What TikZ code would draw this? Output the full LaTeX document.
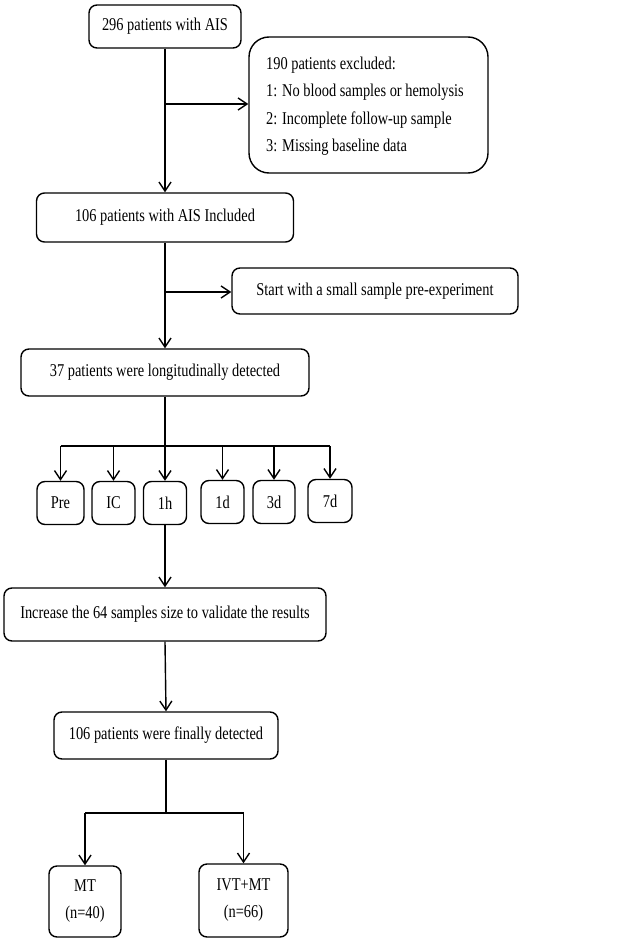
\documentclass[tikz,border=0pt]{standalone}
\usepackage{fontspec}
\setmainfont[FakeStretch=0.8]{Liberation Serif}
\usetikzlibrary{arrows.meta}
\begin{document}
\begin{tikzpicture}[x=1pt,y=1pt,
  box/.style={draw, line width=1.4pt, rounded corners=8pt, inner sep=0pt, align=center,
    font=\fontsize{18}{20}\selectfont},
  conn/.style={line width=1.4pt},
  arr/.style={line width=1.4pt, -{Straight Barb[length=9pt,width=12pt,line width=1.4pt]}}]
\useasboundingbox (0,0) rectangle (624,-942);
\node[box, minimum width=152pt, minimum height=43pt] (a) at (165,-26.5) {296 patients with AIS};
\node[box, rounded corners=20pt, minimum width=239pt, minimum height=136pt] (ex) at (368.5,-105) {};
\node[anchor=west, inner sep=0pt, align=left, font=\fontsize{18}{27.5}\selectfont] (ext) at (266,-106)
  {190 patients excluded:\\1: No blood samples or hemolysis\\2: Incomplete follow-up sample\\3: Missing baseline data};
\node[box, minimum width=257pt, minimum height=49pt] (inc) at (165,-217.5) {106 patients with AIS Included};
\node[box, minimum width=286pt, minimum height=46pt] (st) at (375,-291) {Start with a small sample pre-experiment};
\node[box, minimum width=288pt, minimum height=47pt] (lon) at (165,-372.5) {37 patients were longitudinally detected};
\node[box, minimum width=47pt, minimum height=43pt] (pre) at (60.5,-503) {Pre};
\node[box, minimum width=43pt, minimum height=43pt] (ic) at (113.5,-503) {IC};
\node[box, minimum width=43pt, minimum height=43pt] (h1) at (165,-503) {1h};
\node[box, minimum width=43pt, minimum height=43pt] (d1) at (222.5,-502) {1d};
\node[box, minimum width=42pt, minimum height=43pt] (d3) at (274,-502) {3d};
\node[box, minimum width=44pt, minimum height=43pt] (d7) at (330,-501) {7d};
\node[box, minimum width=322pt, minimum height=53pt] (incr) at (165,-614.5) {Increase the 64 samples size to validate the results};
\node[box, minimum width=224pt, minimum height=47pt] (fin) at (166,-735.5) {106 patients were finally detected};
\node[box, minimum width=72pt, minimum height=71pt, font=\fontsize{18}{27}\selectfont] (mt) at (85,-901.5) {MT\\(n=40)};
\node[box, minimum width=89pt, minimum height=73pt, font=\fontsize{18}{27}\selectfont] (ivt) at (243.5,-900.5) {IVT+MT\\(n=66)};
\coordinate (b1) at (165,-104);
\coordinate (b2) at (165,-292);
\coordinate (b3) at (165,-446);
\coordinate (b4) at (166,-813);
% connectors
\draw[arr] (a.south) -- (inc.north);
\draw[arr] (b1) -- (b1 -| ex.west);
\draw[arr] (inc.south) -- (lon.north);
\draw[arr] (b2) -- (b2 -| st.west);
\draw[conn] (lon.south) -- (b3);
\draw[conn] (pre.north |- b3) -- (d7.north |- b3);
\foreach \n in {pre,ic,h1,d1,d3,d7}{\draw[arr] (\n.north |- b3) -- (\n.north);}
\draw[arr] (h1.south) -- (incr.north);
\draw[arr] (incr.south) -- (fin.north);
\draw[conn] (fin.south) -- (b4);
\draw[conn] (mt.north |- b4) -- (ivt.north |- b4);
\draw[arr] (mt.north |- b4) -- (mt.north);
\draw[arr] (ivt.north |- b4) -- (ivt.north);
\end{tikzpicture}
\end{document}
